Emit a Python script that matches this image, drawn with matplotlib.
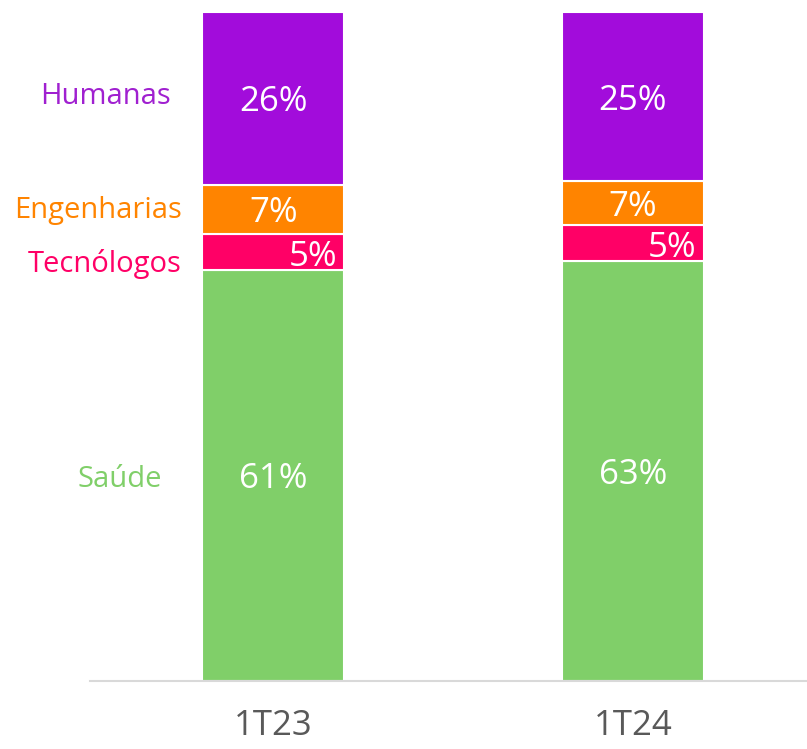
import matplotlib
matplotlib.use("Agg")
import matplotlib.pyplot as plt
import numpy as np

periods = ["1T23", "1T24"]
series_names = ["Saúde", "Tecnólogos", "Engenharias", "Humanas"]
saude = [61.5, 62.8]
tecnologos = [5.3, 5.3]
engenharias = [7.4, 6.6]
humanas = [25.8, 25.3]
labels_saude = ["61%", "63%"]
labels_tec = ["5%", "5%"]
labels_eng = ["7%", "7%"]
labels_hum = ["26%", "25%"]

colors = ["#80CF69", "#FF0066", "#FF8400", "#A20CDB"]
text_colors = ["#80CF69", "#FF0066", "#FF8400", "#A020D0"]

plt.rcParams['font.family'] = ['Open Sans', 'DejaVu Sans']

fig = plt.figure(figsize=(8.07, 7.49), dpi=100)
W, H = 807, 749
ax_left, ax_right = 90, 807
ax = fig.add_axes([ax_left / W, 1 - 681 / H, (ax_right - ax_left) / W, (681 - 12) / H])

x = np.arange(len(periods))
data = [saude, tecnologos, engenharias, humanas]
labels = [labels_saude, labels_tec, labels_eng, labels_hum]
bottom = np.zeros(len(periods))
width = 0.395
for i, (vals, col, labs) in enumerate(zip(data, colors, labels)):
    vals = np.array(vals)
    ax.bar(x, vals, width, bottom=bottom, color=col, edgecolor="white", linewidth=1.5)
    for j in range(len(periods)):
        mid = bottom[j] + vals[j] / 2
        if series_names[i] == "Tecnólogos":
            ax.text(x[j] + width / 2 - 0.02, mid - 0.7, labs[j], ha="right", va="center",
                    color="white", fontsize=25)
        else:
            ax.text(x[j], mid - 0.6, labs[j], ha="center", va="center",
                    color="white", fontsize=25)
    bottom += vals

# category labels on left (next to first bar)
bot = 0
mids = []
for vals in data:
    mids.append(bot + vals[0] / 2)
    bot += vals[0]
label_x = [120, 105, 98, 105]
label_dy = [-0.7, -1.8, -0.2, 0.3]
for i, name in enumerate(series_names):
    fx = (label_x[i] - ax_left) / (ax_right - ax_left)
    ax.text(fx, mids[i] + label_dy[i], name,
            transform=ax.get_yaxis_transform(), ha="center", va="center",
            color=text_colors[i], fontsize=21, clip_on=False)

ax.set_xlim(-0.51, 1.484)
ax.set_ylim(0, 100)
for s in ["top", "right", "left"]:
    ax.spines[s].set_visible(False)
ax.spines["bottom"].set_color("#D9D9D9")
ax.spines["bottom"].set_linewidth(1.5)
ax.set_yticks([])
ax.set_xticks(x)
ax.set_xticklabels(periods, fontsize=25, color="#595959")
ax.tick_params(axis="x", length=0, pad=20)

fig.savefig("out.png", dpi=100)
